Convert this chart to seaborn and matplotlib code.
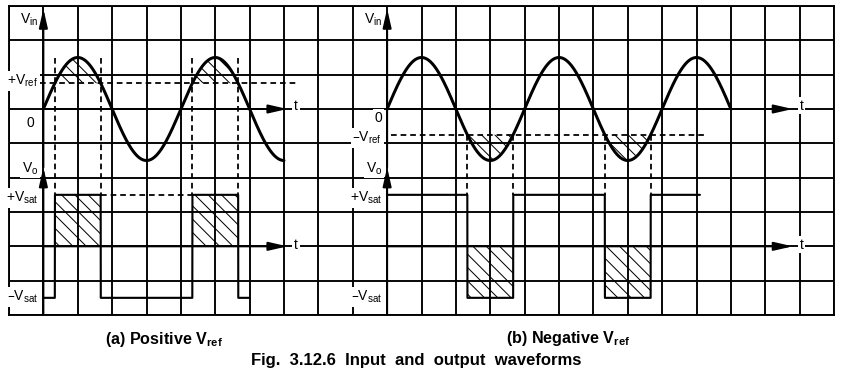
import numpy as np
import pandas as pd
import matplotlib
matplotlib.use("Agg")
import matplotlib.pyplot as plt
import seaborn as sns

# waveform values, in grid cells
amp = 1.5           # sine peak
vref = 0.75         # |Vref|
vsat = 1.5          # output saturation
period = 4.0        # cells per cycle
vin_zero = 6        # input t-axis row
vo_zero = 2         # output t-axis row

# panel (a) positive Vref, panel (b) negative Vref
ref_sign = [1, -1]
origin_x = [1, 11]
sine_span = [(1, 8), (11, 21)]
square_span = [(1, 7), (11, 20.1)]
ref_span = [(0.9, 8.4), (11.1, 20.3)]
t_tip = [8.1, 22.8]
ref_labels = ["+V$_{ref}$", "–V$_{ref}$"]
captions = ["(a) Positive V$_{ref}$", "(b) Negative V$_{ref}$"]
title = "Fig.  3.12.6  Input  and  output  waveforms"

sns.set_theme(style="white")
plt.rcParams["font.family"] = ["Liberation Sans", "DejaVu Sans"]
plt.rcParams["mathtext.default"] = "regular"
plt.rcParams["hatch.linewidth"] = 0.9
plt.rcParams["hatch.color"] = "black"

fig = plt.figure(figsize=(849 / 80, 381 / 80), dpi=80)
ax = fig.add_axes([9 / 849, 1 - 315 / 381, 825 / 849, 309 / 381])
ax.set_xlim(0, 24)
ax.set_ylim(0, 9)
ax.set_xticks(np.arange(25))
ax.set_yticks(np.arange(10))
ax.tick_params(length=0, labelbottom=False, labelleft=False)
ax.grid(True, color="black", lw=1.7)
ax.set_axisbelow(True)
for sp in ax.spines.values():
    sp.set_color("black")
    sp.set_linewidth(1.7)

lbl = dict(fontsize=12.5, color="black", zorder=4,
           bbox=dict(facecolor="white", edgecolor="none", pad=1.5))
dash = (0, (3.2, 2.2))
arrow = dict(arrowstyle="-|>,head_length=0.7,head_width=0.16", color="black",
             lw=1.8, mutation_scale=20, shrinkA=0, shrinkB=0)

for k in range(2):
    s = ref_sign[k]
    x0 = origin_x[k]
    level = s * vref

    # input sine
    x = np.linspace(sine_span[k][0], sine_span[k][1], 1500)
    vin = amp * np.sin(2 * np.pi * (x - x0) / period)
    sin_df = pd.DataFrame({"t": x, "v": vin_zero + vin})
    sns.lineplot(data=sin_df, x="t", y="v", color="black", lw=2.7,
                 sort=False, estimator=None, ax=ax, zorder=6)
    ax.fill_between(x, vin_zero + vin, vin_zero + level, where=s * vin > vref,
                    interpolate=True, facecolor="none", edgecolor="black",
                    hatch="\\\\", lw=0, zorder=5)

    # comparator output
    xs = np.linspace(square_span[k][0], square_span[k][1], 8001)
    vs = amp * np.sin(2 * np.pi * (xs - x0) / period)
    vo = np.where(vs > level, vsat, -vsat)
    sq_df = pd.DataFrame({"t": xs, "v": vo_zero + vo})
    sns.lineplot(data=sq_df, x="t", y="v", color="black", lw=1.9,
                 sort=False, estimator=None, ax=ax, zorder=6)
    ax.fill_between(xs, vo_zero, vo_zero + vo, where=s * vs > vref,
                    facecolor="none", edgecolor="black", hatch="\\\\",
                    lw=0, zorder=5)

    # reference level and switching instants
    ax.plot(ref_span[k], [vin_zero + level] * 2, color="black", lw=1.6,
            ls=dash, zorder=5)
    edges = xs[np.nonzero(np.diff(vo))[0] + 1]
    top = vin_zero + amp if s > 0 else vin_zero + level
    for e in edges:
        ax.plot([e, e], [top, vo_zero + vsat], color="black", lw=1.6,
                ls=dash, zorder=5)
    if s > 0:
        ax.plot([edges[1], edges[2]], [vo_zero + vsat] * 2, color="black",
                lw=1.6, ls=dash, zorder=5)

    # axes with arrows
    ax.annotate("", xy=(x0, 8.92), xytext=(x0, 4.3), arrowprops=arrow, zorder=7)
    ax.annotate("", xy=(x0, 4.3), xytext=(x0, 0), arrowprops=arrow, zorder=7)
    ax.annotate("", xy=(t_tip[k], vin_zero), xytext=(x0, vin_zero),
                arrowprops=arrow, zorder=7)
    ax.annotate("", xy=(t_tip[k], vo_zero), xytext=(x0, vo_zero),
                arrowprops=arrow, zorder=7)
    ax.text(t_tip[k] + 0.25, vin_zero + 0.1, "t", ha="center", va="center", **lbl)
    ax.text(t_tip[k] + 0.25, vo_zero + 0.05, "t", ha="center", va="center", **lbl)

    # level labels
    xr = x0 - 0.15
    ax.text(xr, 8.5, "V$_{in}$", ha="right", va="baseline", **lbl)
    ax.text(xr, 4.16, "V$_{o}$", ha="right", va="baseline", **lbl)
    ax.text(xr, 3.3, "+V$_{sat}$", ha="right", va="baseline", **lbl)
    ax.text(xr, 0.42, "–V$_{sat}$", ha="right", va="baseline", **lbl)
    if s > 0:
        ax.text(xr, 6.7, ref_labels[k], ha="right", va="baseline", **lbl)
        ax.text(x0 - 0.38, vin_zero - 0.4, "0", ha="center", va="center", **lbl)
    else:
        ax.text(xr, 5.04, ref_labels[k], ha="right", va="baseline", **lbl)
        ax.text(xr, vin_zero - 0.25, "0", ha="right", va="center", **lbl)

cap = dict(fontsize=14.5, fontweight="bold", color="black", ha="center",
           va="baseline")
fig.text(164 / 849, 1 - 344 / 381, captions[0], **cap)
fig.text(568 / 849, 1 - 343 / 381, captions[1], **cap)
fig.text(416 / 849, 1 - 365 / 381, title, fontsize=15, fontweight="bold",
         color="black", ha="center", va="baseline")

fig.savefig("out.png", dpi=80, facecolor="white")
